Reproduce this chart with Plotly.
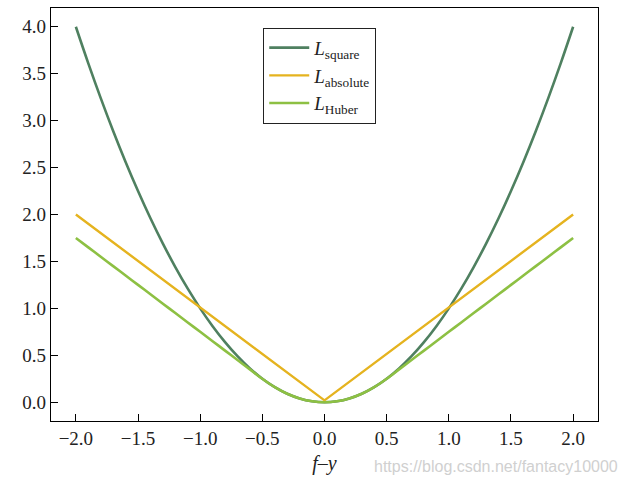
import plotly.graph_objects as go

# f - y values
x_vals = [-2.0, -1.9, -1.8, -1.7, -1.6, -1.5, -1.4, -1.3, -1.2, -1.1, -1.0,
          -0.9, -0.8, -0.7, -0.6, -0.5, -0.4, -0.3, -0.2, -0.1, 0.0,
          0.1, 0.2, 0.3, 0.4, 0.5, 0.6, 0.7, 0.8, 0.9, 1.0,
          1.1, 1.2, 1.3, 1.4, 1.5, 1.6, 1.7, 1.8, 1.9, 2.0]

square_vals = [4.00, 3.61, 3.24, 2.89, 2.56, 2.25, 1.96, 1.69, 1.44, 1.21, 1.00,
               0.81, 0.64, 0.49, 0.36, 0.25, 0.16, 0.09, 0.04, 0.01, 0.00,
               0.01, 0.04, 0.09, 0.16, 0.25, 0.36, 0.49, 0.64, 0.81, 1.00,
               1.21, 1.44, 1.69, 1.96, 2.25, 2.56, 2.89, 3.24, 3.61, 4.00]

huber_vals = [1.75, 1.65, 1.55, 1.45, 1.35, 1.25, 1.15, 1.05, 0.95, 0.85, 0.75,
              0.65, 0.55, 0.45, 0.35, 0.25, 0.16, 0.09, 0.04, 0.01, 0.00,
              0.01, 0.04, 0.09, 0.16, 0.25, 0.35, 0.45, 0.55, 0.65, 0.75,
              0.85, 0.95, 1.05, 1.15, 1.25, 1.35, 1.45, 1.55, 1.65, 1.75]

abs_x = [-2.0, 0.0, 2.0]
abs_vals = [2.0, 0.02, 2.0]

x_ticks = [-2.0, -1.5, -1.0, -0.5, 0.0, 0.5, 1.0, 1.5, 2.0]
x_tick_text = ["\u22122.0", "\u22121.5", "\u22121.0", "\u22120.5", "0.0", "0.5", "1.0", "1.5", "2.0"]
y_ticks = [0.0, 0.5, 1.0, 1.5, 2.0, 2.5, 3.0, 3.5, 4.0]
y_tick_text = ["0.0", "0.5", "1.0", "1.5", "2.0", "2.5", "3.0", "3.5", "4.0"]

SERIF = "Liberation Serif, Times New Roman, serif"

fig = go.Figure()
fig.add_trace(go.Scatter(x=x_vals, y=square_vals, mode="lines", line_shape="spline",
                         line=dict(color="#4f8060", width=2.6),
                         name="<i>L</i><sub>square</sub>", legendgroup="a"))
fig.add_trace(go.Scatter(x=abs_x, y=abs_vals, mode="lines",
                         line=dict(color="#e5b31f", width=2.4),
                         name="<i>L</i><sub>absolute</sub>", legendgroup="b"))
fig.add_trace(go.Scatter(x=x_vals, y=huber_vals, mode="lines", line_shape="spline",
                         line=dict(color="#8dc043", width=2.6),
                         name="<i>L</i><sub>Huber</sub>", legendgroup="c"))

axis_common = dict(showline=True, linecolor="black", linewidth=1.3, mirror=True,
                   ticks="inside", ticklen=7, tickwidth=1.3, tickcolor="black",
                   showgrid=False, zeroline=False,
                   tickfont=dict(family=SERIF, size=19, color="#222"))

fig.update_xaxes(range=[-2.2, 2.2], tickvals=x_ticks, ticktext=x_tick_text,
                 title=dict(text="<i>f</i>\u2013<i>y</i>", font=dict(family=SERIF, size=20, color="#222"),
                            standoff=8),
                 **axis_common)
fig.update_yaxes(range=[-0.2, 4.2], tickvals=y_ticks, ticktext=y_tick_text, **axis_common)

fig.update_layout(
    width=629, height=485,
    margin=dict(l=51, r=31, t=8, b=64),
    paper_bgcolor="white", plot_bgcolor="white",
    showlegend=True,
    legend=dict(x=0.388, y=0.952, xanchor="left", yanchor="top",
                bordercolor="#222", borderwidth=1, bgcolor="white",
                font=dict(family=SERIF, size=19, color="#222"),
                traceorder="grouped", tracegroupgap=0, itemwidth=40),
    annotations=[dict(text="https://blog.csdn.net/fantacy10000", x=1.04, y=-0.11,
                      xref="paper", yref="paper", xanchor="right", yanchor="middle",
                      showarrow=False,
                      font=dict(family="Liberation Sans, Arial, sans-serif", size=16, color="#d0d0d0"))]
)

fig.write_html("out.html")
